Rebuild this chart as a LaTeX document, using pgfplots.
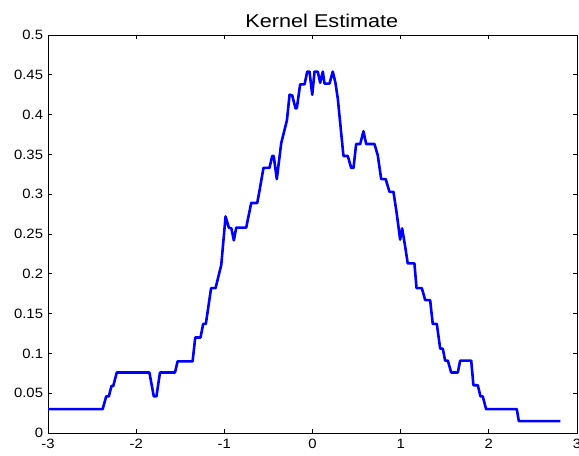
\documentclass[border=0pt]{standalone}
\usepackage{fontspec}
\setmainfont{Liberation Sans}
\usepackage{pgfplots}
\pgfplotsset{compat=1.18}

\begin{document}
\begin{tikzpicture}
\begin{axis}[
  scale only axis,
  width=529pt, height=398pt,
  xmin=-3, xmax=3, ymin=0, ymax=0.5,
  xtick={-3,-2,...,3},
  xticklabels={-3,-2,-1,0,1,2,3},
  ytick={0,0.05,0.1,0.15,0.2,0.25,0.3,0.35,0.4,0.45,0.5},
  yticklabels={0,0.05,0.1,0.15,0.2,0.25,0.3,0.35,0.4,0.45,0.5},
  tick align=inside,
  major tick length=4pt,
  tick style={black, line width=0.7pt},
  axis line style={black, line width=0.9pt},
  tick label style={font=\fontsize{13.5}{15}\selectfont, xscale=1.1},
  title={Kernel Estimate},
  title style={font=\fontsize{18.5}{20}\selectfont, xscale=1.17, xshift=8pt, yshift=-2pt},
  xticklabel style={yshift=-3pt},
  yticklabel style={xshift=-1pt},
]
\addplot[color={rgb,255:red,0;green,0;blue,255}, line width=2.6pt, line join=round] coordinates {
(-3,0.030) (-2.38,0.030) (-2.34,0.046) (-2.31,0.046) (-2.28,0.059) (-2.26,0.059)
(-2.22,0.076) (-1.85,0.076) (-1.80,0.046) (-1.77,0.046) (-1.73,0.076) (-1.56,0.076)
(-1.53,0.090) (-1.36,0.090) (-1.33,0.120) (-1.27,0.120) (-1.24,0.137) (-1.21,0.137)
(-1.15,0.182) (-1.10,0.182) (-1.035,0.211) (-0.986,0.272) (-0.949,0.258) (-0.92,0.257)
(-0.892,0.242) (-0.865,0.258) (-0.752,0.258) (-0.695,0.289) (-0.627,0.289) (-0.60,0.305)
(-0.556,0.333) (-0.488,0.333) (-0.457,0.348) (-0.44,0.348) (-0.405,0.319) (-0.355,0.364)
(-0.29,0.393) (-0.26,0.425) (-0.23,0.424) (-0.193,0.408) (-0.178,0.408) (-0.14,0.438)
(-0.09,0.438) (-0.06,0.454) (-0.034,0.454) (-0.003,0.425) (0.023,0.454) (0.06,0.454)
(0.087,0.440) (0.117,0.454) (0.136,0.439) (0.193,0.439) (0.23,0.454) (0.26,0.440)
(0.287,0.420) (0.351,0.348) (0.40,0.348) (0.439,0.333) (0.465,0.333) (0.495,0.363)
(0.541,0.363) (0.578,0.379) (0.609,0.363) (0.703,0.363) (0.74,0.349) (0.779,0.319)
(0.83,0.319) (0.873,0.303) (0.918,0.303) (0.955,0.276) (0.994,0.243) (1.017,0.257)
(1.05,0.235) (1.08,0.213) (1.156,0.213) (1.18,0.182) (1.24,0.182) (1.278,0.167)
(1.334,0.167) (1.364,0.137) (1.41,0.137) (1.448,0.106) (1.478,0.106) (1.504,0.091)
(1.535,0.091) (1.573,0.076) (1.648,0.076) (1.675,0.091) (1.80,0.091) (1.825,0.060)
(1.875,0.060) (1.905,0.046) (1.931,0.046) (1.969,0.030) (2.317,0.030) (2.34,0.015)
(2.81,0.015)
};
\end{axis}
\pgfresetboundingbox
\path ([xshift=-48pt,yshift=-23pt]current axis.south west) rectangle ([xshift=2pt,yshift=35pt]current axis.north east);
\end{tikzpicture}
\end{document}
